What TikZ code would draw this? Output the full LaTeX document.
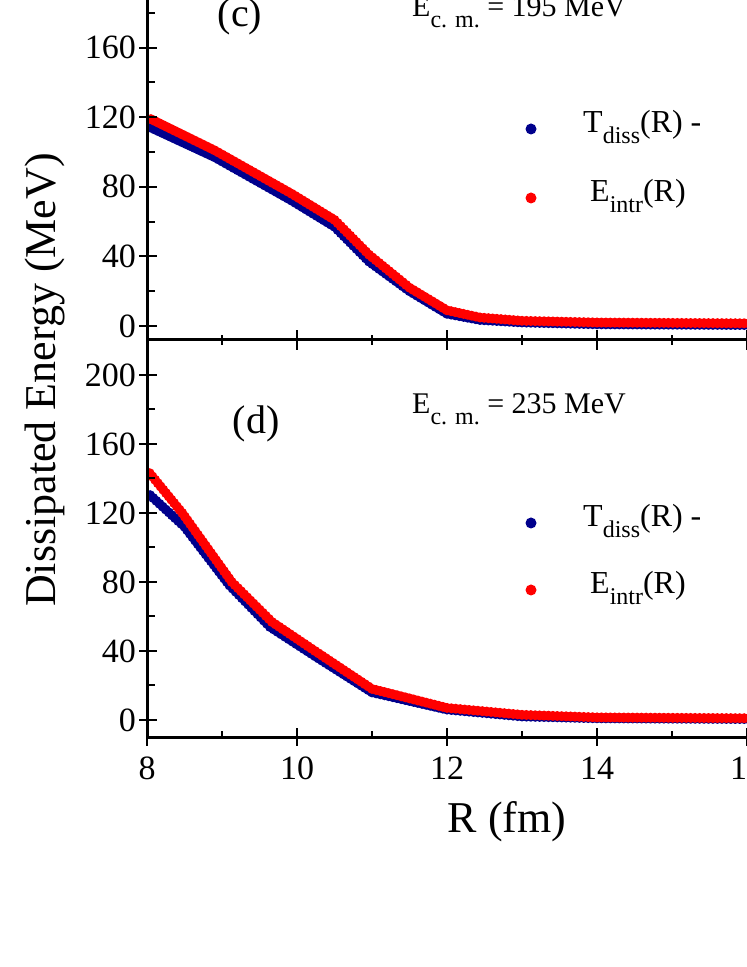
\documentclass[tikz,border=0pt]{standalone}
\usepackage{fontspec}
\setmainfont{Liberation Serif}
\newcommand{\mysub}[1]{\raisebox{-0.35em}{\fontsize{24}{24}\selectfont #1}}
\newcommand{\dotseg}[5]{%
  \pgfmathsetmacro\mylen{veclen(#4-#2,#5-#3)}%
  \pgfmathtruncatemacro\mycount{max(1,ceil(\mylen/4.5))}%
  \foreach \i in {1,...,\mycount}{\fill[#1] ({#2+(#4-#2)*\i/\mycount},{#3+(#5-#3)*\i/\mycount}) circle (5pt);}}
\definecolor{dblue}{RGB}{0,0,140}
\tikzset{
  ticklab/.style={font=\fontsize{34}{34}\selectfont, anchor=east, inner sep=0pt},
  axlab/.style={font=\fontsize{44}{44}\selectfont, inner sep=0pt},
  leg/.style={font=\fontsize{32}{32}\selectfont, anchor=west, inner sep=0pt},
  ecm/.style={font=\fontsize{30}{30}\selectfont, anchor=west, inner sep=0pt},
  plab/.style={font=\fontsize{40}{40}\selectfont, inner sep=0pt},
  axline/.style={line width=3pt},
}
\begin{document}
\begin{tikzpicture}[x=1pt,y=1pt]
\useasboundingbox (0,0) rectangle (747,967);
% panel c data
\begin{scope}
\clip (147,627) rectangle (760,980);
\foreach \xa/\ya/\xb/\yb in {147/841.1/214.5/809.8, 214.5/809.8/291.75/766.3, 291.75/766.3/334.5/740.2, 334.5/740.2/369/705.4, 369/705.4/409.5/675.8, 409.5/675.8/447/653.2, 447/653.2/480/647, 480/647/522/644.5, 522/644.5/597/642.7, 597/642.7/762/641.9}
  {\dotseg{dblue}{\xa}{\ya}{\xb}{\yb}}
\foreach \xa/\ya/\xb/\yb in {147/849.8/214.5/816.7, 214.5/816.7/291.75/773.2, 291.75/773.2/334.5/747.1, 334.5/747.1/369/712.3, 369/712.3/409.5/679.3, 409.5/679.3/447/656.7, 447/656.7/480/649.5, 480/649.5/522/646.2, 522/646.2/597/644.5, 597/644.5/762/643.6}
  {\dotseg{red}{\xa}{\ya}{\xb}{\yb}}
\end{scope}
% panel d data
\begin{scope}
\clip (147,229) rectangle (760,627);
\foreach \xa/\ya/\xb/\yb in {147/474.7/184.5/440.2, 184.5/440.2/229.5/381.6, 229.5/381.6/270/340, 270/340/315/310.8, 315/310.8/372/274.6, 372/274.6/447/257.4, 447/257.4/522/250.5, 522/250.5/597/248.7, 597/248.7/762/247.9}
  {\dotseg{dblue}{\xa}{\ya}{\xb}{\yb}}
\foreach \xa/\ya/\xb/\yb in {147/497.1/182.25/454, 182.25/454/231.75/385, 231.75/385/272/345, 272/345/315/316, 315/316/372/278.1, 372/278.1/447/259.1, 447/259.1/522/252.2, 522/252.2/597/249.6, 597/249.6/762/248.7}
  {\dotseg{red}{\xa}{\ya}{\xb}{\yb}}
\end{scope}
% axes
\draw[axline] (147,967) -- (147,229) -- (760,229);
\draw[axline] (147,627) -- (760,627);
% y ticks c
\foreach \v/\l in {0/0,40/40,80/80,120/120,160/160}{
  \draw[line width=2pt] (139,641+\v*1.74) -- (157,641+\v*1.74);
  \node[ticklab] at (136,641+\v*1.74) {\l};}
\foreach \v in {20,60,100,140,180}{
  \draw[line width=2pt] (147,641+\v*1.74) -- (155,641+\v*1.74);}
% y ticks d
\foreach \v/\l in {0/0,40/40,80/80,120/120,160/160,200/200}{
  \draw[line width=2pt] (139,247+\v*1.725) -- (157,247+\v*1.725);
  \node[ticklab] at (136,247+\v*1.725) {\l};}
\foreach \v in {20,60,100,140,180}{
  \draw[line width=2pt] (147,247+\v*1.725) -- (155,247+\v*1.725);}
% x ticks
\foreach \r in {0,2,4,6,8}{
  \draw[line width=2pt] (147+\r*75,617) -- (147+\r*75,637);
  \draw[line width=2pt] (147+\r*75,221) -- (147+\r*75,239);}
\foreach \r in {1,3,5,7}{
  \draw[line width=2pt] (147+\r*75,622) -- (147+\r*75,632);
  \draw[line width=2pt] (147+\r*75,229) -- (147+\r*75,236);}
\foreach \r/\l in {0/8,2/10,4/12,6/14,8/16}{
  \node[font=\fontsize{34}{34}\selectfont, anchor=north, inner sep=0pt] at (147+\r*75,210) {\l};}
% labels
\node[axlab, rotate=90] (ylab) at (45,587) {Dissipated Energy (MeV)};
\node[axlab] (xlab) at (507,145) {R (fm)};
\node[plab] (pc) at (240,950) {(c)};
\node[plab] (pd) at (256,543) {(d)};
\node[ecm] (ec) at (412,955) {E\mysub{c. m.} = 195 MeV};
\node[ecm] (ed) at (412,558) {E\mysub{c. m.} = 235 MeV};
% legends
\fill[dblue] (531,838) circle (5.5pt); \node[leg] (l1) at (583,840) {T\mysub{diss}(R) -};
\fill[red] (531,769) circle (5.5pt); \node[leg] (l2) at (590,771) {E\mysub{intr}(R)};
\fill[dblue] (531,444) circle (5.5pt); \node[leg] (l3) at (583,446) {T\mysub{diss}(R) -};
\fill[red] (531,377) circle (5.5pt); \node[leg] (l4) at (590,379) {E\mysub{intr}(R)};
\end{tikzpicture}
\end{document}
